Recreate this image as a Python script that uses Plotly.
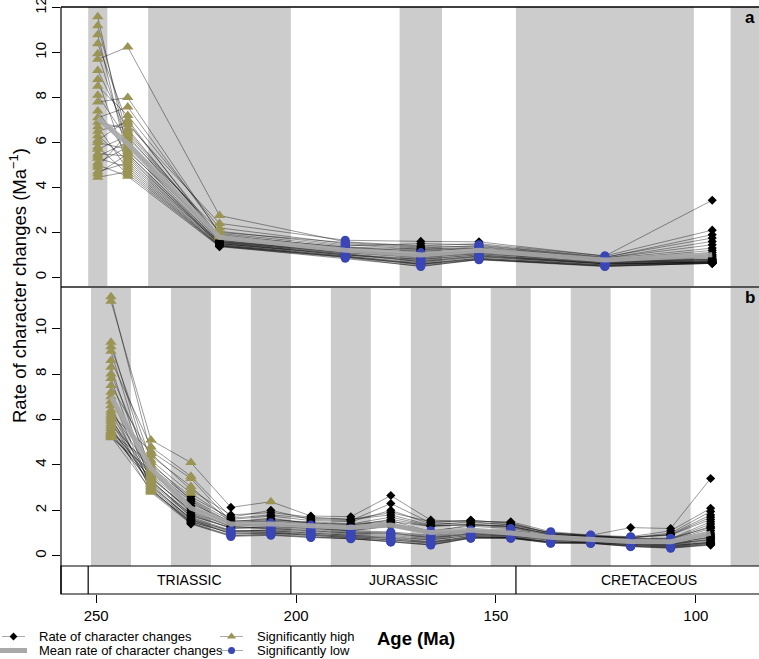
import plotly.graph_objects as go

W, H = 759, 659
FONT = "Liberation Sans, Arial, Helvetica, sans-serif"

# ---------------- data ----------------
# panel a: epoch bins (Ma), bin midpoints
ages_a = [249.6, 242.1, 219.15, 187.7, 168.8, 154.25, 122.75, 95.9]
shade_a = [[252.0, 247.2], [237.0, 201.3], [174.1, 163.5], [145.0, 100.5], [91.3, 84.2]]

# panel b: 10 Myr bins, bin midpoints
ages_b = [246.3, 236.3, 226.3, 216.3, 206.3, 196.3, 186.3, 176.3,
          166.3, 156.3, 146.3, 136.3, 126.3, 116.3, 106.3, 96.3]
shade_b = [[251.3, 241.3], [231.3, 221.3], [211.3, 201.3], [191.3, 181.3], [171.3, 161.3],
           [151.3, 141.3], [131.3, 121.3], [111.3, 101.3], [91.3, 84.2]]

period_names = ["TRIASSIC", "JURASSIC", "CRETACEOUS"]
period_start = [252.0, 201.3, 145.0]
period_end = [201.3, 145.0, 78.5]
period_ticks = [250, 200, 150, 100]

# rates per tree, panel a
a01 = [11.6, 5.6, 1.9, 1.3, 1.1, 1.25, 0.8, 0.9]
a02 = [11.2, 6.2, 2.05, 1.45, 1.25, 1.35, 0.85, 1.6]
a03 = [10.8, 5.3, 1.55, 1.0, 0.8, 1.0, 0.6, 0.65]
a04 = [10.4, 6.8, 2.4, 1.65, 1.6, 1.58, 0.95, 2.1]
a05 = [9.95, 5.9, 1.7, 1.2, 0.95, 1.15, 0.75, 0.8]
a06 = [9.7, 10.25, 2.75, 1.58, 1.4, 1.5, 0.95, 3.43]
a07 = [9.2, 6.5, 1.85, 1.35, 1.15, 1.3, 0.82, 1.3]
a08 = [8.8, 5.0, 1.45, 0.95, 0.6, 0.85, 0.55, 0.7]
a09 = [8.5, 7.2, 2.2, 1.5, 1.3, 1.42, 0.88, 1.9]
a10 = [8.1, 6.1, 1.6, 1.1, 0.85, 1.05, 0.7, 0.75]
a11 = [7.8, 8.0, 1.95, 1.4, 1.5, 1.45, 0.9, 1.75]
a12 = [7.4, 5.5, 1.5, 1.05, 0.7, 0.95, 0.62, 0.68]
a13 = [7.1, 7.58, 2.0, 1.55, 1.35, 1.38, 0.85, 1.45]
a14 = [6.9, 6.6, 1.75, 1.25, 1.0, 1.2, 0.78, 0.85]
a15 = [6.7, 4.8, 1.4, 0.9, 0.55, 0.8, 0.5, 0.62]
a16 = [6.5, 6.9, 1.8, 1.3, 1.2, 1.28, 0.8, 1.1]
a17 = [6.3, 5.2, 1.5, 1.0, 0.75, 0.95, 0.65, 0.7]
a18 = [6.1, 7.0, 1.65, 1.15, 0.9, 1.1, 0.72, 0.8]
a19 = [6.0, 5.7, 1.55, 1.1, 1.05, 1.15, 0.75, 0.95]
a20 = [5.8, 4.6, 1.38, 0.85, 0.5, 0.78, 0.48, 0.63]
a21 = [5.7, 6.3, 1.7, 1.2, 1.0, 1.2, 0.78, 1.2]
a22 = [5.5, 5.4, 1.45, 0.95, 0.65, 0.9, 0.6, 0.66]
a23 = [5.4, 6.0, 1.6, 1.15, 0.95, 1.1, 0.7, 0.78]
a24 = [5.3, 4.9, 1.42, 0.9, 0.6, 0.85, 0.55, 0.64]
a25 = [5.1, 5.8, 1.65, 1.1, 0.9, 1.05, 0.68, 0.72]
a26 = [5.0, 4.5, 1.36, 0.88, 0.48, 0.8, 0.5, 0.62]
a27 = [4.9, 6.4, 1.85, 1.35, 1.25, 1.3, 0.82, 1.0]
a28 = [4.7, 5.1, 1.5, 1.0, 0.7, 0.92, 0.6, 0.68]
a29 = [4.6, 5.5, 1.58, 1.05, 0.8, 1.0, 0.66, 0.74]
a30 = [4.45, 4.7, 1.4, 0.92, 0.58, 0.82, 0.52, 0.65]
mean_a = [7.08, 5.95, 1.78, 1.21, 1.0, 1.2, 0.77, 1.0]
# significance limits per bin: >= hi -> significantly high, <= lo -> significantly low
hi_a = [0, 0, 1.78, 99, 99, 99, 99, 99]
lo_a = [-1, -1, -1, 99, 1.12, 1.46, 99, -1]

# rates per tree, panel b
b01 = [11.4, 4.5, 2.9, 1.8, 1.9, 1.7, 1.6, 1.9, 1.5, 1.55, 1.45, 1.0, 0.9, 1.24, 1.2, 3.4]
b02 = [11.2, 5.1, 4.1, 2.13, 2.38, 1.75, 1.72, 2.65, 1.57, 1.5, 1.5, 1.06, 0.91, 0.84, 1.1, 2.09]
b03 = [9.4, 3.6, 2.3, 1.5, 1.6, 1.45, 1.35, 1.5, 1.3, 1.4, 1.3, 0.95, 0.85, 0.78, 0.95, 1.8]
b04 = [9.2, 4.2, 2.75, 1.6, 1.75, 1.55, 1.5, 2.0, 1.4, 1.45, 1.38, 1.02, 0.88, 0.8, 1.0, 1.95]
b05 = [9.0, 3.3, 1.8, 1.2, 1.3, 1.2, 1.1, 1.05, 0.9, 1.05, 0.98, 0.8, 0.72, 0.6, 0.55, 0.8]
b06 = [8.6, 4.8, 3.5, 1.7, 2.0, 1.6, 1.55, 2.3, 1.45, 1.57, 1.42, 0.98, 0.86, 0.82, 0.92, 1.7]
b07 = [8.3, 3.1, 1.6, 1.1, 1.1, 1.0, 0.9, 0.8, 0.7, 0.9, 0.85, 0.68, 0.62, 0.5, 0.45, 0.6]
b08 = [8.0, 3.9, 2.5, 1.55, 1.5, 1.4, 1.3, 1.4, 1.1, 1.3, 1.2, 0.9, 0.8, 0.72, 0.7, 1.3]
b09 = [7.8, 2.9, 1.5, 1.0, 1.0, 0.9, 0.8, 0.7, 0.55, 0.8, 0.78, 0.58, 0.56, 0.42, 0.35, 0.5]
b10 = [7.5, 4.4, 3.05, 1.45, 1.55, 1.5, 1.4, 1.7, 1.32, 1.38, 1.28, 0.95, 0.84, 0.76, 0.75, 1.5]
b11 = [7.2, 3.4, 2.0, 1.3, 1.4, 1.25, 1.15, 1.3, 1.0, 1.1, 1.05, 0.82, 0.74, 0.62, 0.6, 1.0]
b12 = [7.0, 3.0, 1.55, 1.05, 1.15, 1.05, 0.95, 0.9, 0.75, 0.95, 0.9, 0.72, 0.66, 0.55, 0.5, 0.7]
b13 = [6.8, 4.0, 2.6, 1.65, 1.8, 1.65, 1.6, 1.8, 1.35, 1.5, 1.35, 1.0, 0.88, 0.8, 0.91, 1.6]
b14 = [6.6, 2.85, 1.45, 0.9, 0.92, 0.82, 0.76, 0.62, 0.47, 0.77, 0.77, 0.55, 0.55, 0.4, 0.33, 0.47]
b15 = [6.4, 3.7, 2.2, 1.4, 1.35, 1.3, 1.2, 1.35, 1.05, 1.12, 1.1, 0.85, 0.76, 0.65, 0.62, 1.1]
b16 = [6.3, 3.2, 1.75, 1.25, 1.25, 1.15, 1.05, 1.0, 0.85, 1.0, 0.95, 0.75, 0.68, 0.55, 0.5, 0.75]
b17 = [6.2, 4.6, 3.4, 1.5, 1.65, 1.42, 1.32, 1.6, 1.3, 1.35, 1.25, 0.92, 0.82, 0.74, 0.72, 1.4]
b18 = [6.1, 2.95, 1.42, 0.88, 0.95, 0.85, 0.78, 0.65, 0.5, 0.8, 0.8, 0.6, 0.57, 0.45, 0.38, 0.55]
b19 = [6.0, 3.5, 1.9, 1.3, 1.2, 1.1, 1.0, 0.95, 0.8, 0.95, 0.9, 0.72, 0.66, 0.56, 0.52, 0.85]
b20 = [5.9, 3.05, 1.65, 1.08, 1.05, 0.95, 0.85, 0.75, 0.6, 0.85, 0.82, 0.62, 0.6, 0.48, 0.42, 0.6]
b21 = [5.8, 3.8, 2.4, 1.35, 1.45, 1.35, 1.28, 1.45, 1.02, 1.13, 1.13, 0.88, 0.78, 0.68, 0.66, 1.2]
b22 = [5.7, 2.8, 1.4, 0.85, 0.9, 0.8, 0.75, 0.6, 0.48, 0.78, 0.78, 0.56, 0.55, 0.42, 0.36, 0.5]
b23 = [5.6, 3.35, 1.7, 1.12, 1.1, 1.0, 0.9, 0.85, 0.7, 0.9, 0.88, 0.68, 0.63, 0.52, 0.48, 0.65]
b24 = [5.5, 3.55, 2.1, 1.38, 1.3, 1.2, 1.1, 1.32, 0.95, 1.08, 1.0, 0.8, 0.72, 0.62, 0.58, 0.95]
b25 = [5.45, 3.15, 1.6, 0.95, 1.0, 0.9, 0.82, 0.7, 0.58, 0.82, 0.8, 0.6, 0.58, 0.46, 0.4, 0.55]
b26 = [5.4, 4.1, 2.45, 1.45, 1.5, 1.45, 1.38, 1.55, 1.06, 1.36, 1.3, 0.95, 0.84, 0.78, 0.77, 1.25]
b27 = [5.35, 3.25, 1.85, 1.22, 1.2, 1.1, 1.0, 1.0, 0.8, 0.98, 0.95, 0.75, 0.68, 0.58, 0.55, 0.7]
b28 = [5.3, 3.45, 2.0, 1.28, 1.4, 1.28, 1.22, 1.38, 1.0, 1.1, 1.08, 0.85, 0.76, 0.66, 0.65, 0.9]
b29 = [5.25, 2.9, 1.5, 1.0, 1.02, 0.92, 0.85, 0.78, 0.62, 0.85, 0.82, 0.62, 0.6, 0.5, 0.45, 0.58]
b30 = [5.2, 3.75, 2.15, 1.4, 1.35, 1.22, 1.12, 1.3, 0.95, 1.05, 1.02, 0.82, 0.74, 0.64, 0.6, 0.8]
mean_b = [7.0, 3.85, 2.1, 1.4, 1.4, 1.31, 1.25, 1.35, 1.02, 1.13, 1.0, 0.81, 0.73, 0.63, 0.62, 0.99]
hi_b = [0, 0, 2.68, 99, 2.2, 99, 99, 99, 99, 99, 99, 99, 99, 99, 99, 99]
lo_b = [-1, -1, -1, 1.15, 1.45, 1.35, 1.2, 1.15, 1.15, 1.2, 1.2, 99, 99, 1.0, 0.85, -1]

trees_a = [a01, a02, a03, a04, a05, a06, a07, a08, a09, a10, a11, a12, a13, a14, a15,
           a16, a17, a18, a19, a20, a21, a22, a23, a24, a25, a26, a27, a28, a29, a30]
trees_b = [b01, b02, b03, b04, b05, b06, b07, b08, b09, b10, b11, b12, b13, b14, b15,
           b16, b17, b18, b19, b20, b21, b22, b23, b24, b25, b26, b27, b28, b29, b30]

# ---------------- styling ----------------
BAND = "#cccccc"
OLIVE = "#9a9455"
BLUE = "#3a46b5"
LINE = "rgba(0,0,0,0.5)"
MEAN = "#a9a9a9"
XR = [258.8, 84.2]

def py(px):
    return 1 - px / H

def pxx(px):
    return px / W

fig = go.Figure()

def add_panel(ages, trees, mean, hi, lo, xa, ya):
    for t in trees:
        fig.add_trace(go.Scatter(x=ages, y=t, mode="lines", line=dict(color=LINE, width=0.8),
                                 xaxis=xa, yaxis=ya, hoverinfo="skip", showlegend=False))
    groups = {"n": ([], []), "h": ([], []), "l": ([], [])}
    for t in trees:
        for i, v in enumerate(t):
            if v >= hi[i]:
                k = "h"
            elif v <= lo[i]:
                k = "l"
            else:
                k = "n"
            groups[k][0].append(ages[i])
            groups[k][1].append(v)
    fig.add_trace(go.Scatter(x=groups["n"][0], y=groups["n"][1], mode="markers",
                             marker=dict(symbol="diamond", size=7, color="black", line=dict(width=0)),
                             xaxis=xa, yaxis=ya, hoverinfo="skip", showlegend=False))
    fig.add_trace(go.Scatter(x=groups["l"][0], y=groups["l"][1], mode="markers",
                             marker=dict(symbol="circle", size=9, color=BLUE, line=dict(width=0)),
                             xaxis=xa, yaxis=ya, hoverinfo="skip", showlegend=False))
    fig.add_trace(go.Scatter(x=groups["h"][0], y=groups["h"][1], mode="markers",
                             marker=dict(symbol="triangle-up", size=10, color=OLIVE, line=dict(width=0)),
                             xaxis=xa, yaxis=ya, hoverinfo="skip", showlegend=False))
    fig.add_trace(go.Scatter(x=ages, y=mean, mode="lines", line=dict(color=MEAN, width=5),
                             opacity=0.9, xaxis=xa, yaxis=ya, hoverinfo="skip", showlegend=False))

add_panel(ages_a, trees_a, mean_a, hi_a, lo_a, "x", "y")
add_panel(ages_b, trees_b, mean_b, hi_b, lo_b, "x2", "y2")

shapes = []
for s in shade_a:
    shapes.append(dict(type="rect", xref="x", yref="y domain", x0=s[0], x1=s[1], y0=0, y1=1,
                       fillcolor=BAND, line=dict(width=0), layer="below"))
for s in shade_b:
    shapes.append(dict(type="rect", xref="x2", yref="y2 domain", x0=s[0], x1=s[1], y0=0, y1=1,
                       fillcolor=BAND, line=dict(width=0), layer="below"))

# period bar
shapes.append(dict(type="rect", xref="paper", yref="paper", x0=pxx(61), x1=pxx(760),
                   y0=py(594), y1=py(566), line=dict(color="black", width=1.2), fillcolor="rgba(0,0,0,0)"))
for s in period_start:
    shapes.append(dict(type="line", xref="x3", yref="y3 domain", x0=s, x1=s, y0=0, y1=1,
                       line=dict(color="black", width=1.2)))
# frame lines
shapes.append(dict(type="line", xref="paper", yref="paper", x0=pxx(61), x1=pxx(760),
                   y0=py(7), y1=py(7), line=dict(color="black", width=1.5)))
shapes.append(dict(type="line", xref="paper", yref="paper", x0=pxx(61), x1=pxx(760),
                   y0=py(287), y1=py(287), line=dict(color="#555555", width=2)))
shapes.append(dict(type="line", xref="paper", yref="paper", x0=pxx(61), x1=pxx(61),
                   y0=py(594), y1=py(7), line=dict(color="black", width=1.2)))

annotations = []
for name, s, e in zip(period_names, period_start, period_end):
    annotations.append(dict(x=(s + e) / 2, y=0.5,
                            xref="x3", yref="y3 domain", text=name, showarrow=False,
                            font=dict(family=FONT, size=14, color="black"),
                            xanchor="center", yanchor="middle"))
annotations.append(dict(x=pxx(18), y=py(286), xref="paper", yref="paper",
                        text="Rate of character changes (Ma<sup>−1</sup>)", textangle=-90,
                        showarrow=False, font=dict(family=FONT, size=18.5, color="black"),
                        xanchor="center", yanchor="middle"))
annotations.append(dict(x=pxx(757), y=py(18), xref="paper", yref="paper", text="<b>a</b>",
                        showarrow=False, font=dict(family=FONT, size=17, color="black"),
                        xanchor="right", yanchor="middle"))
annotations.append(dict(x=pxx(757), y=py(298), xref="paper", yref="paper", text="<b>b</b>",
                        showarrow=False, font=dict(family=FONT, size=17, color="black"),
                        xanchor="right", yanchor="middle"))
annotations.append(dict(x=pxx(416), y=py(638), xref="paper", yref="paper", text="<b>Age (Ma)</b>",
                        showarrow=False, font=dict(family=FONT, size=18.5, color="black"),
                        xanchor="center", yanchor="middle"))

# legend (drawn on a pixel-scaled helper axis)
legend_rows = [636.5, 650.5]
fig.add_trace(go.Scatter(x=[2, 25], y=[legend_rows[0]] * 2, mode="lines",
                         line=dict(color="#aaaaaa", width=1), xaxis="x4", yaxis="y4",
                         hoverinfo="skip", showlegend=False))
fig.add_trace(go.Scatter(x=[13.5], y=[legend_rows[0]], mode="markers",
                         marker=dict(symbol="diamond", size=6, color="black"), xaxis="x4", yaxis="y4",
                         hoverinfo="skip", showlegend=False))
fig.add_trace(go.Scatter(x=[0, 27], y=[legend_rows[1]] * 2, mode="lines",
                         line=dict(color=MEAN, width=5), xaxis="x4", yaxis="y4",
                         hoverinfo="skip", showlegend=False))
fig.add_trace(go.Scatter(x=[220, 243], y=[legend_rows[0]] * 2, mode="lines",
                         line=dict(color="#aaaaaa", width=1), xaxis="x4", yaxis="y4",
                         hoverinfo="skip", showlegend=False))
fig.add_trace(go.Scatter(x=[231.5], y=[legend_rows[0]], mode="markers",
                         marker=dict(symbol="triangle-up", size=8, color=OLIVE), xaxis="x4", yaxis="y4",
                         hoverinfo="skip", showlegend=False))
fig.add_trace(go.Scatter(x=[220, 243], y=[legend_rows[1]] * 2, mode="lines",
                         line=dict(color="#aaaaaa", width=1), xaxis="x4", yaxis="y4",
                         hoverinfo="skip", showlegend=False))
fig.add_trace(go.Scatter(x=[231.5], y=[legend_rows[1]], mode="markers",
                         marker=dict(symbol="circle", size=7, color=BLUE), xaxis="x4", yaxis="y4",
                         hoverinfo="skip", showlegend=False))
legend_text = [("Rate of character changes", 37, 0), ("Mean rate of character changes", 37, 1),
               ("Significantly high", 255, 0), ("Significantly low", 255, 1)]
for txt, lx, r in legend_text:
    annotations.append(dict(x=lx, y=legend_rows[r], xref="x4", yref="y4", text=txt, showarrow=False,
                            font=dict(family=FONT, size=13, color="black"),
                            xanchor="left", yanchor="middle"))

ax_common = dict(showgrid=False, zeroline=False, automargin=False)
fig.update_layout(
    width=W, height=H, autosize=False,
    margin=dict(l=0, r=0, t=0, b=0),
    paper_bgcolor="white", plot_bgcolor="rgba(0,0,0,0)",
    font=dict(family=FONT, color="black"),
    showlegend=False,
    shapes=shapes, annotations=annotations,
    xaxis=dict(domain=[pxx(61), 1], range=XR, showticklabels=False, ticks="", anchor="y", **ax_common),
    yaxis=dict(domain=[py(287), py(7)], range=[-0.43, 12.03], tickvals=[0, 2, 4, 6, 8, 10, 12],
               ticks="outside", ticklen=8, tickcolor="black", tickangle=-90, ticklabeloverflow="allow",
               tickfont=dict(family=FONT, size=15, color="black"), anchor="x", **ax_common),
    xaxis2=dict(domain=[pxx(61), 1], range=XR, showticklabels=False, ticks="", anchor="y2", **ax_common),
    yaxis2=dict(domain=[py(566), py(287)], range=[-0.45, 11.83], tickvals=[0, 2, 4, 6, 8, 10],
                ticks="outside", ticklen=8, tickcolor="black", tickangle=-90, ticklabeloverflow="allow",
                tickfont=dict(family=FONT, size=15, color="black"), anchor="x2", **ax_common),
    xaxis3=dict(domain=[pxx(61), 1], range=XR, tickvals=period_ticks, ticks="outside", ticklen=8,
                tickcolor="black", tickfont=dict(family=FONT, size=15, color="black"),
                anchor="y3", **ax_common),
    yaxis3=dict(domain=[py(594), py(566)], range=[0, 1], showticklabels=False, ticks="",
                anchor="x3", **ax_common),
    xaxis4=dict(domain=[0, 1], range=[0, W], visible=False, anchor="y4", fixedrange=True, **ax_common),
    yaxis4=dict(domain=[0, 1], range=[H, 0], visible=False, anchor="x4", fixedrange=True, **ax_common),
)

fig.write_html("out.html", config={"displayModeBar": False},
               post_script="document.body.style.margin='0';document.body.style.overflow='hidden';")
